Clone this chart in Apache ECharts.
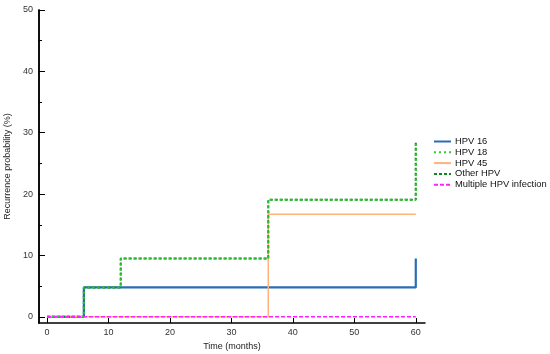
<!DOCTYPE html>
<html>
<head>
<meta charset="utf-8">
<script src="https://cdn.jsdelivr.net/npm/echarts@6/dist/echarts.min.js"></script>
<style>html,body{margin:0;padding:0;background:#fff}#c{width:550px;height:354px}</style>
</head>
<body>
<div id="c"></div>
<script>
// Data (months, recurrence probability %)
const seriesNames = ['HPV 16', 'HPV 18', 'HPV 45', 'Other HPV', 'Multiple HPV infection'];
const hpv16Time = [0, 6, 60];
const hpv16Val  = [0, 4.8, 9.5];
const hpv18Time = [0, 6, 12, 36, 60];
const hpv18Val  = [0, 4.8, 9.5, 19.1, 28.5];
const hpv45Time = [0, 36, 60];
const hpv45Val  = [0, 16.7, 16.7];
const otherTime = [0, 6, 12, 36, 60];
const otherVal  = [0, 4.8, 9.5, 19.1, 28.5];
const multiTime = [0, 60];
const multiVal  = [0, 0];
const xTicks = [0, 10, 20, 30, 40, 50, 60];
const yTicks = [0, 10, 20, 30, 40, 50];
const yMinorTicks = [5, 15, 25, 35, 45];

const pairs = (t, v) => t.map((x, i) => [x, v[i]]);
const font = 'Liberation Sans, Arial, sans-serif';

const chart = echarts.init(document.getElementById('c'), null, {renderer: 'canvas'});
chart.setOption({
  animation: false,
  backgroundColor: '#fff',
  grid: {left: 39, right: 125, top: 10, bottom: 31, containLabel: false, outerBoundsMode: 'none'},
  legend: {
    data: seriesNames,
    orient: 'vertical',
    left: 433, top: 137, padding: 0,
    itemWidth: 17, itemHeight: 8, itemGap: 1.8,
    itemStyle: {opacity: 0},
    textStyle: {fontFamily: font, fontSize: 9.4, lineHeight: 9, color: '#111', padding: [0, 0, 0, -1]}
  },
  xAxis: {
    type: 'value', min: -1.3, max: 61.5,
    name: 'Time (months)', nameLocation: 'middle', nameGap: 19,
    nameTextStyle: {fontFamily: font, fontSize: 9, color: '#222'},
    axisLine: {show: true, onZero: false, lineStyle: {color: '#000', width: 1.5}},
    axisTick: {show: true, inside: true, length: 5, customValues: xTicks, lineStyle: {color: '#000', width: 1}},
    axisLabel: {customValues: xTicks, fontFamily: font, fontSize: 9, color: '#333', margin: 5},
    splitLine: {show: false}
  },
  yAxis: [{
    type: 'value', min: -1, max: 50,
    name: 'Recurrence probability (%)', nameLocation: 'middle', nameGap: 27,
    nameTextStyle: {fontFamily: font, fontSize: 9, color: '#222'},
    axisLine: {show: true, onZero: false, lineStyle: {color: '#000', width: 1.5}},
    axisTick: {show: true, inside: true, length: 6, customValues: yTicks, lineStyle: {color: '#000', width: 1}},
    axisLabel: {customValues: yTicks, fontFamily: font, fontSize: 9, color: '#333', margin: 6},
    splitLine: {show: false}
  }, {
    type: 'value', min: -1, max: 50, position: 'left', offset: 0,
    axisLine: {show: true, onZero: false, lineStyle: {color: '#000', width: 1.5}},
    axisTick: {show: true, inside: true, length: 3, customValues: yMinorTicks, lineStyle: {color: '#000', width: 1}},
    axisLabel: {show: false},
    splitLine: {show: false}
  }],
  series: [
    {name: 'HPV 16', type: 'line', step: 'end', symbol: 'none', data: pairs(hpv16Time, hpv16Val),
     color: '#2a6db5', lineStyle: {color: '#2a6db5', width: 2.2}, z: 2},
    {name: 'HPV 45', type: 'line', step: 'end', symbol: 'none', data: pairs(hpv45Time, hpv45Val),
     color: '#ffb27c', lineStyle: {color: '#ffb27c', width: 1.5}, z: 3},
    {name: 'Other HPV', type: 'line', step: 'end', symbol: 'none', data: pairs(otherTime, otherVal),
     color: '#0a8a1a', lineStyle: {color: '#0a8a1a', width: 2, type: [3, 2]}, z: 4},
    {name: 'HPV 18', type: 'line', step: 'end', symbol: 'none', data: pairs(hpv18Time, hpv18Val),
     color: '#2ecc2e', lineStyle: {color: '#2ecc2e', width: 2, type: [2, 3]}, z: 5},
    {name: 'Multiple HPV infection', type: 'line', step: 'end', symbol: 'none', data: pairs(multiTime, multiVal),
     color: '#ff22ff', lineStyle: {color: '#ff22ff', width: 1.5, type: [4, 2]}, z: 6}
  ]
});
</script>
</body>
</html>
